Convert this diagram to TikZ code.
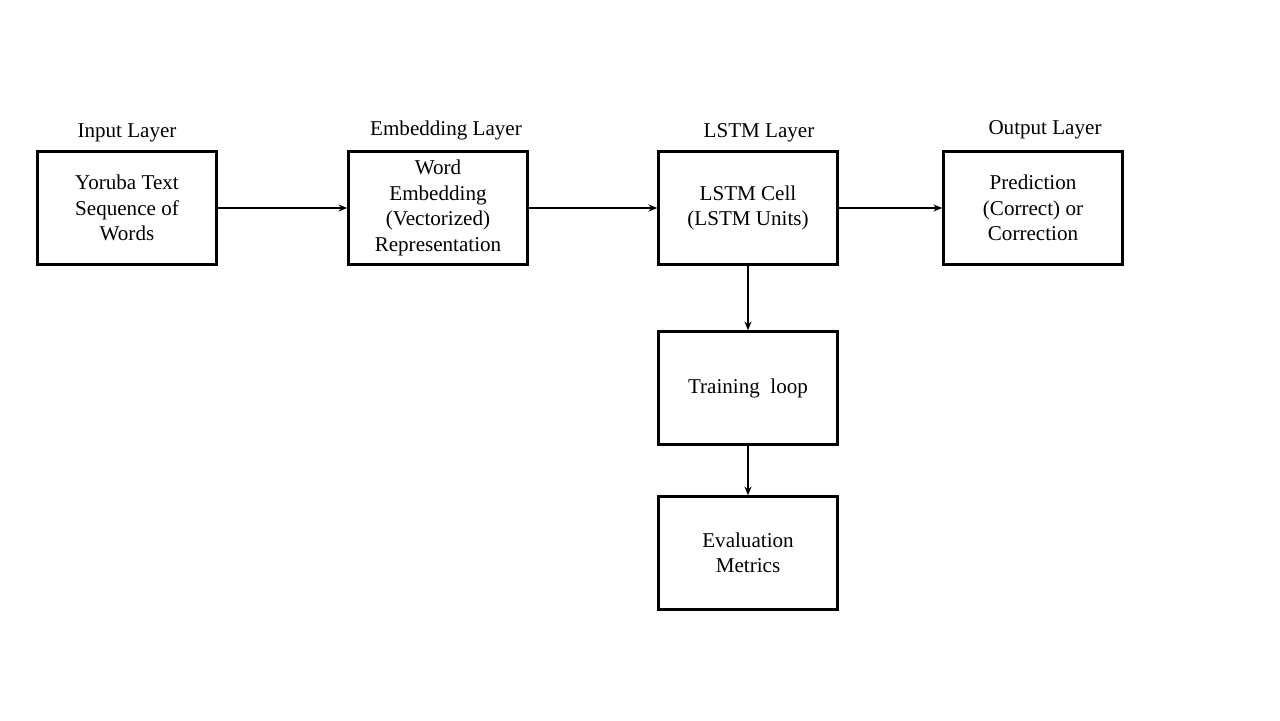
\documentclass[tikz,border=0pt]{standalone}
\usepackage{fontspec}
\setmainfont{Liberation Serif}
\usetikzlibrary{positioning,arrows.meta}
\tikzset{
  layerbox/.style={rectangle, draw=black, line width=1.4pt, minimum width=3.58cm, minimum height=2.26cm, align=center, font=\fontsize{12}{14.5}\selectfont},
  layertitle/.style={font=\fontsize{12}{14}\selectfont},
  flow/.style={-{Stealth[length=5pt,width=4pt]}, line width=1.1pt}
}
\begin{document}
\begin{tikzpicture}[x=0.02cm, y=-0.02cm]
        \useasboundingbox (0,0) rectangle (1280,720);
        % Main row
        \node [layerbox] (input) at (127,208) {Yoruba Text\\Sequence of\\Words};
        \node [layerbox] (embed) at (438,208) {Word\\Embedding\\(Vectorized)\\Representation};
        \node [layerbox] (lstm) at (748,208) {LSTM Cell\\(LSTM Units)};
        \node [layerbox] (output) at (1033,208) {Prediction\\(Correct) or\\Correction};
        % Lower column
        \node [layerbox] (train) at (748,388) {Training\ \ loop};
        \node [layerbox] (eval) at (748,553) {Evaluation\\Metrics};
        % Titles
        \node [layertitle] (input-t) at (127,133) {Input Layer};
        \node [layertitle] (embed-t) at (446,130) {Embedding Layer};
        \node [layertitle] (lstm-t) at (759,133) {LSTM Layer};
        \node [layertitle] (output-t) at (1045,130) {Output Layer};
        % Connections
        \draw [flow] (input) -- (embed);
        \draw [flow] (embed) -- (lstm);
        \draw [flow] (lstm) -- (output);
        \draw [flow] (lstm) -- (train);
        \draw [flow] (train) -- (eval);
\end{tikzpicture}
\end{document}
